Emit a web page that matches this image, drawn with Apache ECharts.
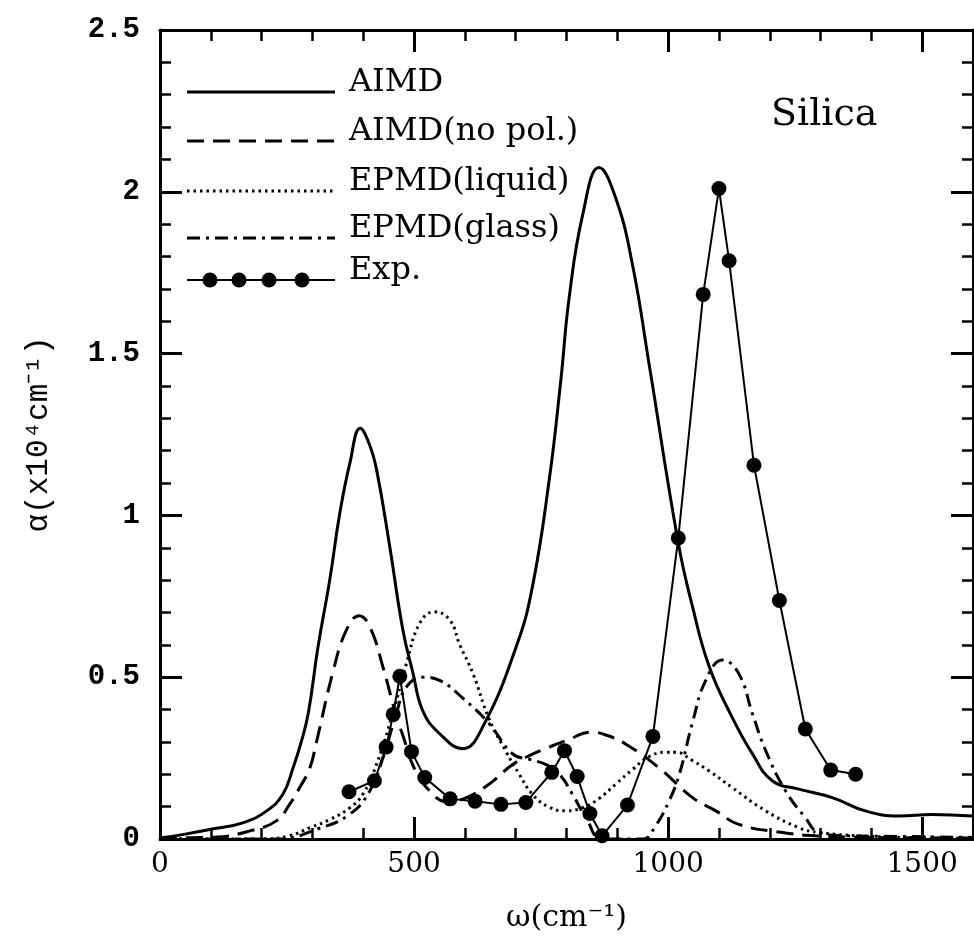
<!DOCTYPE html>
<html>
<head>
<meta charset="utf-8">
<script src="https://cdn.jsdelivr.net/npm/echarts@6/dist/echarts.min.js"></script>
<style>html,body{margin:0;padding:0;background:#fff}#c{width:974px;height:950px}</style>
</head>
<body>
<div id="c"></div>
<script>
// ---- data ----
const xTicks = [0, 500, 1000, 1500];
const yTicks = [0, 0.5, 1, 1.5, 2, 2.5];
const seriesNames = ['AIMD', 'AIMD(no pol.)', 'EPMD(liquid)', 'EPMD(glass)', 'Exp.'];

const aimd = [[0,0.003],[50,0.015],[100,0.03],[163,0.05],[210,0.087],[242,0.139],[262,0.22],[278,0.3],[292,0.39],[311,0.594],[334,0.8],[354,1.008],[374,1.164],[394,1.269],[412,1.22],[426,1.143],[452,0.905],[478,0.646],[498,0.512],[517,0.397],[550,0.326],[596,0.279],[635,0.346],[701,0.594],[733,0.78],[766,1.11],[789,1.42],[805,1.67],[832,1.93],[864,2.075],[897,1.98],[930,1.774],[963,1.463],[1020,0.915],[1048,0.718],[1081,0.532],[1126,0.376],[1166,0.263],[1205,0.18],[1257,0.154],[1323,0.128],[1388,0.087],[1454,0.071],[1519,0.076],[1600,0.071]];

const noPol = [[0,0.002],[60,0.004],[111,0.006],[177,0.025],[229,0.056],[255,0.107],[275,0.159],[295,0.22],[308,0.3],[341,0.52],[367,0.646],[392,0.69],[413,0.656],[439,0.53],[465,0.38],[478,0.32],[500,0.22],[530,0.15],[565,0.115],[603,0.128],[648,0.17],[694,0.23],[730,0.26],[760,0.28],[799,0.304],[851,0.33],[880,0.32],[917,0.293],[982,0.22],[1048,0.128],[1094,0.087],[1139,0.045],[1225,0.02],[1290,0.01],[1400,0.005],[1600,0.003]];

const liquid = [[0,0],[200,0],[255,0.01],[295,0.035],[334,0.06],[374,0.097],[400,0.14],[426,0.23],[458,0.387],[485,0.542],[511,0.666],[540,0.702],[570,0.677],[590,0.6],[616,0.511],[648,0.37],[681,0.27],[707,0.2],[733,0.138],[766,0.098],[799,0.087],[832,0.097],[864,0.125],[897,0.17],[930,0.215],[963,0.255],[996,0.268],[1015,0.268],[1048,0.242],[1081,0.21],[1126,0.159],[1192,0.087],[1257,0.035],[1297,0.02],[1400,0.008],[1500,0.004],[1600,0.002]];

const glass = [[0,0],[236,0],[308,0.03],[373,0.076],[413,0.149],[439,0.252],[465,0.387],[485,0.47],[517,0.5],[550,0.49],[596,0.435],[648,0.356],[694,0.263],[730,0.245],[760,0.23],[786,0.2],[812,0.138],[840,0.06],[870,0.0],[950,0.0],[975,0.04],[1002,0.118],[1022,0.2],[1048,0.36],[1074,0.49],[1107,0.553],[1139,0.511],[1166,0.387],[1192,0.273],[1231,0.149],[1270,0.066],[1297,0.02],[1350,0.01],[1450,0.008],[1600,0.005]];

const exp = [[372,0.146],[422,0.18],[445,0.284],[459,0.385],[472,0.503],[495,0.27],[521,0.19],[571,0.124],[620,0.117],[671,0.107],[720,0.113],[771,0.206],[796,0.273],[821,0.193],[846,0.079],[870,0.01],[920,0.105],[970,0.317],[1020,0.93],[1069,1.683],[1100,2.01],[1120,1.787],[1169,1.155],[1219,0.737],[1270,0.34],[1320,0.213],[1369,0.2]];

// ---- styles ----
const serif = 'DejaVu Serif';
const mono = 'Liberation Mono';
const dashes = {
  solid: 'solid',
  dashed: [17, 9],
  dotted: [2.5, 4],
  dashdot: [13, 6, 3, 6]
};

function xAxisDef(pos, interval, len, labels) {
  return {
    type: 'value', position: pos, min: 0, max: 1600, interval: interval,
    axisLine: { show: interval === 500, onZero: false, lineStyle: { color: '#000', width: 3 } },
    axisTick: { show: true, inside: true, length: len, lineStyle: { color: '#000', width: interval === 500 ? 3 : 2.5 } },
    axisLabel: {
      show: labels, margin: 12, color: '#000', fontFamily: serif, fontSize: 28,
      formatter: v => xTicks.indexOf(v) >= 0 ? String(v) : '',
      showMaxLabel: false
    },
    splitLine: { show: false },
    name: labels ? 'ω(cm⁻¹)' : '', nameLocation: 'middle', nameGap: 64,
    nameTextStyle: { color: '#000', fontFamily: serif, fontSize: 30 }
  };
}
function yAxisDef(pos, labels) {
  return {
    type: 'value', position: pos, min: yTicks[0], max: yTicks[yTicks.length - 1], interval: 0.5,
    axisLine: { show: true, onZero: false, lineStyle: { color: '#000', width: 3 } },
    axisTick: { show: true, inside: true, length: 22, lineStyle: { color: '#000', width: 3 } },
    minorTick: { show: true, splitNumber: 5, length: 11, lineStyle: { color: '#000', width: 2.5 } },
    axisLabel: { show: labels, margin: 20, color: '#000', fontFamily: mono, fontWeight: 'bold', fontSize: 29 },
    splitLine: { show: false }, minorSplitLine: { show: false },
    name: labels ? 'α(x10⁴cm⁻¹)' : '', nameLocation: 'middle', nameGap: 106, nameRotate: 90,
    nameTextStyle: { color: '#000', fontFamily: mono, fontSize: 31 }
  };
}

function curve(name, data, type) {
  return {
    name: name, type: 'line', data: data, xAxisIndex: 0, yAxisIndex: 0,
    showSymbol: false, smooth: 0.45, silent: true, animation: false,
    lineStyle: { color: '#000', width: 3, type: type }, z: 2
  };
}

// legend drawn as graphics
const legendRows = [92, 141, 191, 238, 280];
const legendStyles = [dashes.solid, dashes.dashed, dashes.dotted, dashes.dashdot, dashes.solid];
const graphics = [];
legendRows.forEach((y, i) => {
  graphics.push({
    type: 'line', shape: { x1: 187, y1: y, x2: 335, y2: y },
    style: { stroke: '#000', lineWidth: i === 4 ? 2 : 3, lineDash: legendStyles[i] === 'solid' ? null : legendStyles[i] }
  });
  graphics.push({
    type: 'text', left: 349, top: y - 25,
    style: { text: seriesNames[i], fill: '#000', font: '32px "DejaVu Serif"' }
  });
});
[210, 239, 269, 302].forEach(x => {
  graphics.push({ type: 'circle', shape: { cx: x, cy: legendRows[4], r: 7.5 }, style: { fill: '#000' } });
});
graphics.push({
  type: 'text', left: 771, top: 96,
  style: { text: 'Silica', fill: '#000', font: '38px "DejaVu Serif"' }
});

const chart = echarts.init(document.getElementById('c'), null, { renderer: 'canvas' });
chart.setOption({
  animation: false,
  backgroundColor: '#fff',
  grid: { left: 160, right: 1, top: 30, bottom: 111, containLabel: false },
  xAxis: [
    xAxisDef('bottom', 500, 22, true),
    xAxisDef('bottom', 100, 11, false),
    xAxisDef('top', 500, 22, false),
    xAxisDef('top', 100, 11, false)
  ],
  yAxis: [yAxisDef('left', true), yAxisDef('right', false)],
  graphic: graphics,
  series: [
    curve(seriesNames[0], aimd, 'solid'),
    curve(seriesNames[1], noPol, dashes.dashed),
    curve(seriesNames[2], liquid, dashes.dotted),
    curve(seriesNames[3], glass, dashes.dashdot),
    {
      name: seriesNames[4], type: 'line', data: exp, xAxisIndex: 0, yAxisIndex: 0,
      showSymbol: true, symbol: 'circle', symbolSize: 15, smooth: false, silent: true,
      itemStyle: { color: '#000' }, lineStyle: { color: '#000', width: 2 }, z: 3
    }
  ]
});
</script>
</body>
</html>
